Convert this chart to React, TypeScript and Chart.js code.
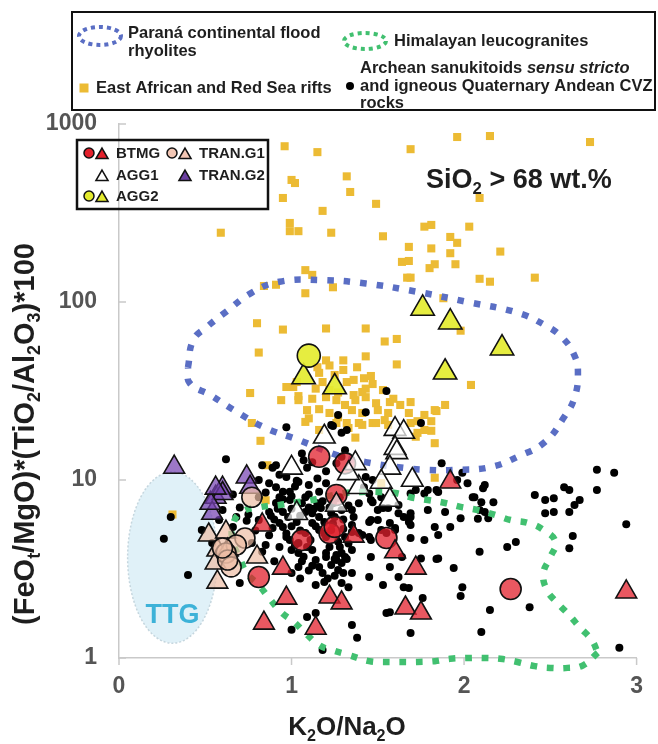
import React, { useEffect, useRef } from 'react';
import { Chart, registerables } from 'chart.js';

Chart.register(...registerables);

type Pt = [number, number];

const FONT = '"Liberation Sans", Arial, Helvetica, sans-serif';

// Axis ticks
const xTickValues = [0, 1, 2, 3];
const yTickValues = [1, 10, 100, 1000];

// [K2O/Na2O, (FeOt/MgO)*(TiO2/Al2O3)*100]
const eastAfricanRifts: Pt[] = [
  [0.96, 750], [1.15, 695], [1.69, 722], [1.96, 845], [2.15, 856], [2.73, 792],
  [1.0, 485], [1.02, 466], [1.32, 508], [1.34, 415], [0.95, 384], [1.49, 356], [2.09, 384], [1.18, 325],
  [0.59, 245], [0.99, 278], [0.99, 250], [1.04, 250], [1.23, 245], [1.53, 234], [1.77, 265], [1.81, 271],
  [2.03, 265], [1.92, 232], [1.96, 215], [1.68, 204], [1.81, 200], [2.21, 192],
  [1.64, 168], [1.68, 170], [1.92, 188], [1.83, 163], [1.8, 155], [1.95, 163], [1.67, 137], [1.69, 137],
  [2.09, 135], [2.15, 130], [2.41, 137],
  [1.08, 151], [1.12, 142], [0.84, 123], [0.91, 125], [1.24, 121], [1.08, 112], [1.88, 105],
  [0.8, 76], [0.95, 70], [1.2, 71], [1.43, 71], [1.98, 69], [1.54, 60], [1.61, 62], [1.61, 44.6], [0.81, 52],
  [1.43, 49.5], [1.3, 47], [1.3, 41.5], [1.38, 43], [1.46, 38.4], [1.47, 34.6], [1.41, 31.2], [1.57, 27.4],
  [1.69, 27.4], [1.89, 26.4], [1.84, 24.4], [1.81, 21.4], [1.73, 21.4], [1.73, 18.4], [1.81, 18.9], [1.83, 16.1],
  [1.37, 17.3], [2.04, 34.2], [0.76, 30.8], [0.82, 16.6], [0.77, 20.9], [0.86, 12.1], [0.85, 7.7], [0.31, 6.4],
  [1.83, 10.3], [1.52, 9.6],
  [1.26, 20.9], [1.41, 20.4], [1.47, 20.9], [1.56, 20.4], [1.69, 20.9], [1.77, 19.1], [1.72, 17.5], [1.08, 21.2],
  [0.94, 28.1], [0.97, 33.3], [1.04, 29.6], [1.2, 47], [1.22, 44], [1.16, 40], [1.18, 35.5], [1.32, 35.5],
  [1.42, 37.3], [1.43, 32.6], [1.43, 29.2], [1.37, 28.1], [1.31, 26.4], [1.26, 28.1], [1.2, 29.2], [1.14, 32.6],
  [1.12, 28.6], [1.16, 25], [1.09, 24.7], [1.1, 22.2], [1.22, 23.8], [1.27, 22.5], [1.35, 24.7], [1.41, 23.8],
  [1.49, 27], [1.63, 26.4], [1.68, 23.8], [1.77, 23.2], [1.83, 24.7], [1.49, 20.9], [1.54, 21.7], [1.39, 20.9],
  [1.32, 20.9], [1.03, 35.5], [1.15, 43], [1.01, 33.3],
  [1.22, 32], [1.27, 31], [1.36, 30], [1.53, 32], [1.59, 28.6], [1.5, 24.7], [1.56, 23.8], [1.33, 19.6],
  [1.16, 19.1], [1.25, 38.9], [1.36, 36.5], [1.04, 28.1],
];

const sanukitoidsCVZ: Pt[] = [
  [0.3, 6.2], [0.26, 4.67], [0.4, 2.93],
  [0.62, 13.1], [0.83, 12.1], [0.91, 12.1], [1.03, 9.9], [1.09, 11.7], [0.87, 9.6], [0.93, 10.7], [0.85, 8.5],
  [0.95, 8.6], [0.99, 7.72], [0.91, 7.43], [0.58, 5.96], [0.48, 5.24], [0.54, 4.43], [0.7, 2.64], [0.81, 5.96],
  [0.89, 5.37], [0.93, 5.74], [0.97, 4.78], [0.93, 4.2], [1.0, 4.04], [1.04, 4.43], [1.08, 5.03], [1.16, 6.2],
  [1.12, 6.5], [1.2, 4.78], [1.12, 4.04], [1.14, 3.55], [1.2, 3.69], [1.16, 3.25], [1.23, 3.33], [1.29, 3.89],
  [1.29, 3.42], [1.27, 3.12], [1.31, 4.78], [1.35, 5.59], [1.39, 5.03], [1.45, 4.78], [1.46, 5.96], [1.5, 6.78],
  [1.35, 3.0], [1.45, 2.85], [1.53, 2.57], [1.14, 2.57], [1.19, 2.67], [1.0, 3.0], [1.04, 3.25], [1.33, 2.5],
  [1.35, 1.53], [1.38, 1.3], [1.09, 1.7], [1.14, 1.79], [1.18, 1.11], [1.0, 1.44], [1.55, 1.79], [1.46, 7.72],
  [1.55, 5.03], [0.85, 4.31], [0.77, 4.43],
  [0.97, 19.8], [1.24, 20.1], [1.06, 14.1], [1.12, 12.6], [1.1, 9.37], [1.04, 9.75], [0.81, 10.0], [0.91, 9.1],
  [0.93, 8.0], [0.81, 8.0], [1.16, 8.6], [1.2, 9.6], [1.08, 8.0], [0.99, 8.6], [0.93, 7.24], [0.87, 6.6],
  [0.95, 5.45], [1.17, 6.96], [1.12, 5.74], [1.16, 5.24], [1.25, 6.2], [1.11, 4.6], [0.99, 4.6], [0.83, 3.95],
  [1.04, 3.89], [1.2, 3.89], [0.6, 6.78], [0.66, 5.45],
  [1.29, 18.4], [1.32, 19.1], [1.75, 20.9], [1.87, 12.4], [1.26, 12.4], [1.29, 13.5], [1.43, 10.4], [1.47, 10.0],
  [1.79, 8.79], [1.85, 8.57], [1.96, 10.0], [2.02, 9.6], [2.06, 8.0], [2.11, 9.0], [2.1, 7.5], [2.12, 6.6],
  [1.98, 6.1], [1.89, 6.6], [1.79, 6.78], [1.69, 6.2], [1.62, 6.5], [1.53, 6.96], [1.47, 7.5], [1.45, 8.4],
  [1.39, 7.4], [1.35, 6.78], [1.29, 6.78], [1.45, 5.81], [1.5, 5.96], [1.57, 5.74], [1.6, 5.24], [1.68, 5.81],
  [1.83, 5.45], [1.92, 5.45], [1.69, 4.72], [1.85, 4.91], [1.52, 5.24], [1.41, 4.91], [1.23, 5.24], [1.46, 4.6],
  [1.46, 3.69], [2.09, 3.95], [1.35, 4.04], [1.77, 4.6], [1.64, 3.69], [1.75, 3.62], [1.85, 3.62], [1.26, 3.79],
  [1.99, 11.0], [2.12, 9.37], [2.05, 8.0], [2.17, 7.5], [2.08, 6.05], [2.14, 6.1], [2.09, 6.78], [2.41, 8.24],
  [2.47, 7.72], [2.52, 7.9], [2.58, 9.1], [2.61, 8.79], [2.67, 7.72], [2.64, 7.24], [2.61, 6.6], [2.52, 6.6],
  [2.47, 6.5], [2.77, 11.4], [2.87, 11.0], [2.77, 8.79], [2.94, 5.65], [2.63, 4.84], [2.61, 4.14], [2.3, 4.48],
  [2.25, 4.2], [1.94, 3.2], [1.84, 3.6], [1.99, 2.5], [1.98, 2.23], [2.15, 1.86], [2.38, 1.93], [2.1, 1.4],
  [2.9, 1.14], [1.69, 5.59], [1.6, 5.37], [1.57, 3.25], [1.62, 2.85], [1.65, 2.5], [1.68, 2.47], [1.76, 2.17],
  [1.57, 1.81], [1.69, 1.38], [1.29, 2.64], [1.26, 3.55], [1.31, 3.69], [1.35, 5.1], [1.36, 6.2], [1.56, 6.96],
  [1.52, 8.0], [1.42, 9.1], [1.23, 6.5], [1.19, 5.8], [1.62, 7.24], [1.65, 6.2], [1.69, 6.5], [1.72, 8.79],
  [1.77, 8.4], [1.84, 8.79], [1.69, 8.4],
  [1.55, 31.6], [1.27, 23.2], [1.43, 24.0], [1.23, 20.4], [1.31, 14.7], [1.07, 12.9], [0.89, 11.7],
  [0.9, 6.0], [0.95, 6.6], [1.0, 6.9], [1.05, 6.3], [1.1, 7.0], [1.15, 7.4], [1.0, 5.5], [1.05, 5.2],
  [0.97, 5.0], [1.02, 4.3], [1.07, 3.7], [1.12, 3.3], [1.18, 3.0], [1.25, 2.9], [1.22, 4.2], [1.27, 4.5],
  [1.3, 5.3], [1.3, 6.0], [1.33, 7.2], [1.26, 7.9], [1.22, 7.0], [1.1, 8.3], [1.02, 9.2], [0.97, 10.4],
  [1.15, 10.2], [1.2, 11.2], [0.75, 6.4], [0.7, 7.0], [0.66, 8.3],
  [0.88, 6.3], [0.92, 6.9], [0.98, 6.2], [1.03, 5.8], [1.08, 6.6], [1.13, 6.9], [1.18, 7.6], [1.24, 7.4],
  [1.28, 8.0], [1.06, 7.4], [1.0, 8.1], [0.95, 7.8], [1.14, 5.5], [1.19, 5.0], [1.24, 5.7], [1.28, 4.2],
  [1.33, 4.4], [1.32, 3.6], [1.25, 3.6], [1.09, 4.2], [1.06, 3.5], [1.1, 3.1], [1.21, 2.8], [1.3, 3.0],
  [1.05, 2.8], [0.9, 3.5], [0.87, 4.9], [0.79, 5.2], [0.74, 5.9], [0.68, 6.2],
];

const btmgCircles: Pt[] = [
  [1.16, 13.5], [1.31, 12.4], [1.26, 8.24], [1.06, 4.6], [1.22, 5.03], [1.25, 5.45], [1.55, 4.72], [2.27, 2.44], [0.81, 2.85],
];
const btmgTriangles: Pt[] = [
  [1.92, 9.75], [1.36, 4.84], [1.6, 3.95], [1.72, 3.2], [0.83, 5.59], [0.95, 3.2], [0.97, 2.17], [0.84, 1.57],
  [1.14, 1.47], [1.22, 2.2], [1.29, 2.04], [1.66, 1.91], [1.75, 1.79], [2.94, 2.35],
];
const agg1Triangles: Pt[] = [
  [1.19, 17.5], [1.0, 11.7], [1.6, 19.3], [1.65, 18.6], [1.6, 15.1], [1.61, 14.3], [1.37, 12.4], [1.57, 11.7],
  [1.7, 10.0], [1.52, 9.75], [1.39, 9.1], [1.33, 10.9], [1.26, 7.24], [1.57, 7.72], [1.03, 6.5],
];
const agg2Circles: Pt[] = [[1.1, 50]];
const agg2Triangles: Pt[] = [
  [1.07, 37.9], [1.25, 33.3], [1.76, 92], [1.92, 77], [2.22, 55], [1.89, 40.3],
];
const tranG1Circles: Pt[] = [
  [0.77, 8.0], [0.73, 4.72], [0.68, 4.31], [0.62, 3.89], [0.65, 3.25], [0.63, 3.55], [0.6, 4.15],
];
const tranG1Triangles: Pt[] = [
  [0.52, 4.91], [0.57, 4.04], [0.56, 3.42], [0.57, 2.67], [0.62, 5.1], [0.8, 3.69], [0.63, 4.04],
];
const tranG2Triangles: Pt[] = [
  [0.32, 11.8], [0.56, 8.0], [0.6, 9.0], [0.6, 8.4], [0.74, 10.4], [0.76, 9.1], [0.54, 6.5], [0.53, 7.4], [0.56, 9.0],
];

// Field outlines (closed loops)
const paranaRhyolites: Pt[] = [
  [0.4, 43], [0.43, 61], [0.51, 72.5], [0.62, 88], [0.77, 113], [0.93, 130], [1.16, 133], [1.43, 127],
  [1.73, 114], [2.02, 100], [2.31, 87], [2.47, 74], [2.57, 63], [2.64, 50], [2.66, 40], [2.64, 29],
  [2.58, 22.6], [2.47, 16.4], [2.31, 13.5], [2.15, 11.8], [1.96, 11.4], [1.79, 11.4], [1.62, 11.8],
  [1.43, 12.6], [1.29, 13.5], [1.04, 16.8], [0.85, 19.6], [0.68, 24.2], [0.53, 30], [0.41, 35], [0.4, 43],
];
const himalayanLeucogranites: Pt[] = [
  [2.775, 1.07], [2.69, 0.91], [2.6, 0.88], [2.5, 0.88], [2.41, 0.9], [2.31, 0.95], [2.21, 0.99], [2.12, 1.0],
  [2.02, 1.0], [1.92, 0.99], [1.83, 0.96], [1.73, 0.95], [1.64, 0.95], [1.54, 0.95], [1.45, 0.96], [1.33, 1.04],
  [1.23, 1.11], [1.16, 1.18], [1.08, 1.38], [1.015, 1.59], [0.94, 1.81], [0.87, 2.17], [0.81, 2.57], [0.74, 3.0],
  [0.7, 3.65], [0.66, 4.48], [0.66, 5.59], [0.71, 6.6], [0.825, 7.06], [0.93, 7.24], [1.03, 7.5], [1.12, 7.72],
  [1.22, 8.15], [1.31, 8.45], [1.4, 8.57], [1.5, 8.57], [1.6, 8.45], [1.69, 8.0], [1.79, 7.72], [1.89, 7.43],
  [1.98, 7.06], [2.08, 6.78], [2.18, 6.36], [2.27, 5.96], [2.37, 5.74], [2.46, 5.24], [2.53, 4.48], [2.5, 3.69],
  [2.46, 3.0], [2.48, 2.41], [2.54, 2.04], [2.61, 1.74], [2.67, 1.49], [2.74, 1.26], [2.775, 1.07],
];

// TTG field extent (x range, y range)
const ttgXRange: Pt = [0.05, 0.57];
const ttgYRange: Pt = [1.21, 11.1];
const ttgLabelAt: Pt = [0.31, 1.74];
const silicaLabelAt: Pt = [1.78, 437];

const COLORS = {
  rift: '#ecbb34',
  dot: '#000000',
  parana: '#5a6ec4',
  himalaya: '#41c070',
  btmg: 'rgba(226,32,44,0.75)',
  tranG1: 'rgba(238,190,165,0.7)',
  agg1: 'rgba(255,255,255,0.72)',
  tranG2: 'rgba(118,66,178,0.72)',
  agg2: 'rgba(228,236,48,0.92)',
  axis: '#c9c9c9',
  tick: '#555555',
  text: '#1e1e1e',
  ttgFill: '#e0f1f8',
  ttgEdge: '#c5d6de',
  ttgText: '#3db2d8',
};

const toXY = (pts: Pt[]) => pts.map(([x, y]) => ({ x, y }));

type Run = { t: string; sub?: boolean; it?: boolean };

function setFont(ctx: CanvasRenderingContext2D, size: number, italic?: boolean) {
  ctx.font = `${italic ? 'italic ' : ''}bold ${size}px ${FONT}`;
}

function runsWidth(ctx: CanvasRenderingContext2D, runs: Run[], size: number) {
  let w = 0;
  for (const r of runs) {
    setFont(ctx, r.sub ? size * 0.62 : size, r.it);
    w += ctx.measureText(r.t).width;
  }
  return w;
}

function drawRuns(ctx: CanvasRenderingContext2D, runs: Run[], x: number, y: number, size: number) {
  let cx = x;
  for (const r of runs) {
    const s = r.sub ? size * 0.62 : size;
    setFont(ctx, s, r.it);
    ctx.fillText(r.t, cx, r.sub ? y + size * 0.22 : y);
    cx += ctx.measureText(r.t).width;
  }
}

function marker(ctx: CanvasRenderingContext2D, kind: 'circle' | 'triangle', x: number, y: number, r: number, fill: string) {
  ctx.beginPath();
  if (kind === 'circle') {
    ctx.arc(x, y, r, 0, Math.PI * 2);
  } else {
    const a = (2 * Math.PI) / 3;
    ctx.moveTo(x, y - r);
    ctx.lineTo(x + r * Math.sin(a), y - r * Math.cos(a));
    ctx.lineTo(x + r * Math.sin(2 * a), y - r * Math.cos(2 * a));
    ctx.closePath();
  }
  ctx.fillStyle = fill;
  ctx.fill();
  ctx.lineWidth = 1.5;
  ctx.strokeStyle = '#111';
  ctx.stroke();
}

const yTitle: Run[] = [
  { t: '(FeO' }, { t: 't', sub: true }, { t: '/MgO)*(TiO' }, { t: '2', sub: true }, { t: '/Al' },
  { t: '2', sub: true }, { t: 'O' }, { t: '3', sub: true }, { t: ')*100' },
];
const xTitle: Run[] = [{ t: 'K' }, { t: '2', sub: true }, { t: 'O/Na' }, { t: '2', sub: true }, { t: 'O' }];
const silicaLabel: Run[] = [{ t: 'SiO' }, { t: '2', sub: true }, { t: ' > 68 wt.%' }];

const decorations = {
  id: 'decorations',
  beforeDatasetsDraw(chart: any) {
    const { ctx, scales } = chart;
    const xs = scales.x;
    const ys = scales.y;
    const x0 = xs.getPixelForValue(ttgXRange[0]);
    const x1 = xs.getPixelForValue(ttgXRange[1]);
    const y0 = ys.getPixelForValue(ttgYRange[1]);
    const y1 = ys.getPixelForValue(ttgYRange[0]);
    ctx.save();
    ctx.beginPath();
    ctx.ellipse((x0 + x1) / 2, (y0 + y1) / 2, (x1 - x0) / 2, (y1 - y0) / 2, 0, 0, Math.PI * 2);
    ctx.fillStyle = COLORS.ttgFill;
    ctx.fill();
    ctx.setLineDash([2, 2]);
    ctx.lineWidth = 1.5;
    ctx.strokeStyle = COLORS.ttgEdge;
    ctx.stroke();
    ctx.setLineDash([]);
    setFont(ctx, 27);
    ctx.fillStyle = COLORS.ttgText;
    ctx.textAlign = 'center';
    ctx.textBaseline = 'middle';
    ctx.fillText('TTG', xs.getPixelForValue(ttgLabelAt[0]), ys.getPixelForValue(ttgLabelAt[1]));
    ctx.restore();
  },
  afterDraw(chart: any) {
    const { ctx, scales, chartArea } = chart;
    const xs = scales.x;
    const ys = scales.y;
    ctx.save();

    // tick marks
    ctx.strokeStyle = COLORS.axis;
    ctx.lineWidth = 1.5;
    for (const v of yTickValues) {
      const py = ys.getPixelForValue(v);
      ctx.beginPath();
      ctx.moveTo(chartArea.left, py);
      ctx.lineTo(chartArea.left + 7, py);
      ctx.stroke();
    }
    for (const v of xTickValues) {
      const px = xs.getPixelForValue(v);
      ctx.beginPath();
      ctx.moveTo(px, chartArea.bottom);
      ctx.lineTo(px, chartArea.bottom + 7);
      ctx.stroke();
    }

    // axis titles
    ctx.fillStyle = COLORS.text;
    ctx.textAlign = 'left';
    ctx.textBaseline = 'alphabetic';
    const xw = runsWidth(ctx, xTitle, 26);
    drawRuns(ctx, xTitle, 347 - xw / 2, 735, 26);

    ctx.save();
    ctx.translate(34, 434);
    ctx.rotate(-Math.PI / 2);
    const yw = runsWidth(ctx, yTitle, 29);
    drawRuns(ctx, yTitle, -yw / 2, 0, 29);
    ctx.restore();

    // silica annotation
    drawRuns(ctx, silicaLabel, xs.getPixelForValue(silicaLabelAt[0]), ys.getPixelForValue(silicaLabelAt[1]), 27);

    // reference field legend
    ctx.lineWidth = 2;
    ctx.strokeStyle = '#111';
    ctx.strokeRect(72, 12, 583, 98);

    ctx.lineWidth = 4;
    ctx.setLineDash([4, 4]);
    ctx.strokeStyle = COLORS.parana;
    ctx.beginPath();
    ctx.ellipse(100, 36, 21, 9, 0, 0, Math.PI * 2);
    ctx.stroke();
    ctx.strokeStyle = COLORS.himalaya;
    ctx.beginPath();
    ctx.ellipse(365, 41, 21, 8, 0, 0, Math.PI * 2);
    ctx.stroke();
    ctx.setLineDash([]);

    ctx.fillStyle = COLORS.rift;
    ctx.fillRect(79.5, 83.5, 9, 9);
    ctx.fillStyle = '#000';
    ctx.beginPath();
    ctx.arc(350, 86, 4, 0, Math.PI * 2);
    ctx.fill();

    ctx.fillStyle = COLORS.text;
    ctx.textBaseline = 'middle';
    const ls = 16.5;
    setFont(ctx, ls);
    ctx.fillText('Paraná continental flood', 128, 33);
    ctx.fillText('rhyolites', 128, 51);
    ctx.fillText('Himalayan leucogranites', 394, 41);
    ctx.fillText('East African and Red Sea rifts', 96, 88);
    drawRuns(ctx, [{ t: 'Archean sanukitoids ' }, { t: 'sensu stricto', it: true }], 360, 68, ls);
    setFont(ctx, ls);
    ctx.fillText('and igneous Quaternary Andean CVZ', 360, 86);
    ctx.fillText('rocks', 360, 103);

    // sample group legend
    ctx.lineWidth = 2.5;
    ctx.strokeStyle = '#111';
    ctx.strokeRect(77, 140, 191, 69);
    marker(ctx, 'circle', 89, 153, 5, '#e3202b');
    marker(ctx, 'triangle', 102, 155, 7, '#e3202b');
    marker(ctx, 'circle', 172, 153, 5, '#f2c6b4');
    marker(ctx, 'triangle', 185, 155, 7, '#f2c6b4');
    marker(ctx, 'triangle', 102, 177, 7, '#ffffff');
    marker(ctx, 'triangle', 185, 177, 7, '#6b3fa0');
    marker(ctx, 'circle', 89, 196, 5, '#e3ea2e');
    marker(ctx, 'triangle', 102, 198, 7, '#e3ea2e');
    ctx.fillStyle = COLORS.text;
    setFont(ctx, 15);
    ctx.fillText('BTMG', 116, 154);
    ctx.fillText('TRAN.G1', 199, 154);
    ctx.fillText('AGG1', 116, 176);
    ctx.fillText('TRAN.G2', 199, 176);
    ctx.fillText('AGG2', 116, 197);

    ctx.restore();
  },
};

function pointSet(label: string, pts: Pt[], style: string, radius: number, fill: string, order: number, border = true) {
  return {
    label,
    data: toXY(pts),
    pointStyle: style,
    pointRadius: radius,
    pointBackgroundColor: fill,
    pointBorderColor: '#111',
    pointBorderWidth: border ? 1.6 : 0,
    showLine: false,
    clip: false as const,
    order,
  };
}

function outlineSet(label: string, pts: Pt[], color: string, order: number) {
  return {
    label,
    data: toXY(pts),
    showLine: true,
    pointRadius: 0,
    borderColor: color,
    borderWidth: 6.5,
    borderDash: [6.5, 10],
    borderCapStyle: 'butt',
    tension: 0.45,
    capBezierPoints: false,
    fill: false,
    clip: false as const,
    order,
  };
}

export default function App() {
  const ref = useRef<HTMLCanvasElement>(null);

  useEffect(() => {
    const canvas = ref.current;
    if (!canvas) return;
    const tickFont = { family: FONT, size: 23, weight: 'bold' as const };
    const chart = new Chart(canvas, {
      type: 'scatter',
      data: {
        datasets: [
          pointSet('East African and Red Sea rifts', eastAfricanRifts, 'rect', 5.7, COLORS.rift, 20, false),
          pointSet('Archean sanukitoids and Andean CVZ', sanukitoidsCVZ, 'circle', 4, COLORS.dot, 19, false),
          outlineSet('Paraná continental flood rhyolites', paranaRhyolites, COLORS.parana, 18),
          outlineSet('Himalayan leucogranites', himalayanLeucogranites, COLORS.himalaya, 17),
          pointSet('TRAN.G2', tranG2Triangles, 'triangle', 12, COLORS.tranG2, 8),
          pointSet('TRAN.G1', tranG1Triangles, 'triangle', 12, COLORS.tranG1, 7),
          pointSet('TRAN.G1', tranG1Circles, 'circle', 10, COLORS.tranG1, 6),
          pointSet('BTMG', btmgCircles, 'circle', 10.5, COLORS.btmg, 5),
          pointSet('BTMG', btmgTriangles, 'triangle', 12, COLORS.btmg, 4),
          pointSet('AGG1', agg1Triangles, 'triangle', 12.5, COLORS.agg1, 3),
          pointSet('AGG2', agg2Triangles, 'triangle', 13.5, COLORS.agg2, 2),
          pointSet('AGG2', agg2Circles, 'circle', 11.5, COLORS.agg2, 1),
        ] as any,
      },
      options: {
        animation: false,
        responsive: false,
        devicePixelRatio: 1,
        events: [],
        layout: { padding: { top: 124, right: 18, left: 0, bottom: 0 } },
        elements: { line: { capBezierPoints: false } },
        plugins: { legend: { display: false }, tooltip: { enabled: false } },
        scales: {
          x: {
            type: 'linear',
            min: 0,
            max: 3,
            afterFit: (s: any) => { s.height = 86; },
            afterBuildTicks: (s: any) => { s.ticks = xTickValues.map((v) => ({ value: v })); },
            grid: { display: false, drawTicks: false },
            border: { display: true, color: COLORS.axis, width: 1.5 },
            ticks: { font: tickFont, color: COLORS.tick, padding: 15, maxRotation: 0, autoSkip: false, callback: (v: any) => String(v) },
          },
          y: {
            type: 'logarithmic',
            min: 1,
            max: 1000,
            afterFit: (s: any) => { s.width = 119; },
            afterBuildTicks: (s: any) => { s.ticks = yTickValues.map((v) => ({ value: v })); },
            grid: { display: false, drawTicks: false },
            border: { display: true, color: COLORS.axis, width: 1.5 },
            ticks: { font: tickFont, color: COLORS.tick, padding: 22, autoSkip: false, callback: (v: any) => String(v) },
          },
        },
      },
      plugins: [decorations],
    });
    return () => chart.destroy();
  }, []);

  return (
    <div style={{ position: 'fixed', left: 0, top: 0, width: 658, height: 744, background: '#ffffff' }}>
      <canvas ref={ref} width={658} height={744} style={{ display: 'block', width: 658, height: 744 }} />
    </div>
  );
}
